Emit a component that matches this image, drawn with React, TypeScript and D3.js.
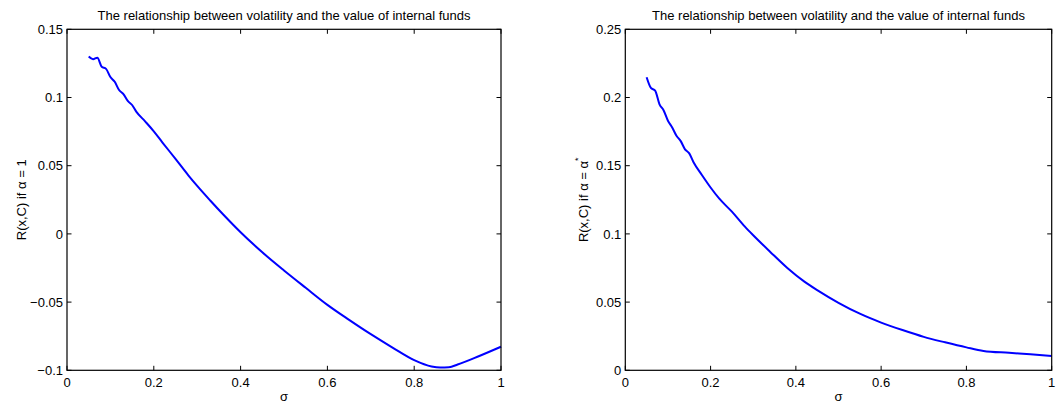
import React from "react";
import * as d3 from "d3";

const titleText = "The relationship between volatility and the value of internal funds";
const xTicks = [0, 0.2, 0.4, 0.6, 0.8, 1];
const xTickLabels = ["0", "0.2", "0.4", "0.6", "0.8", "1"];

const leftYTicks = [-0.1, -0.05, 0, 0.05, 0.1, 0.15];
const leftYTickLabels = ["\u22120.1", "\u22120.05", "0", "0.05", "0.1", "0.15"];
const rightYTicks = [0, 0.05, 0.1, 0.15, 0.2, 0.25];
const rightYTickLabels = ["0", "0.05", "0.1", "0.15", "0.2", "0.25"];

const leftSigma = [0.05, 0.06, 0.07, 0.08, 0.09, 0.10, 0.11, 0.12, 0.13, 0.14, 0.15, 0.16, 0.18, 0.20, 0.22, 0.25, 0.28, 0.30, 0.33, 0.36, 0.40, 0.45, 0.50, 0.55, 0.60, 0.65, 0.70, 0.75, 0.80, 0.84, 0.86, 0.88, 0.90, 0.95, 1.00];
const leftValues = [0.130, 0.128, 0.1292, 0.1225, 0.1210, 0.1150, 0.1115, 0.1055, 0.1025, 0.0975, 0.0945, 0.0895, 0.0825, 0.0752, 0.0670, 0.0550, 0.0428, 0.0352, 0.0245, 0.0142, 0.0012, -0.0135, -0.0268, -0.0395, -0.0520, -0.0630, -0.0735, -0.0833, -0.0925, -0.0972, -0.0980, -0.0978, -0.0958, -0.0895, -0.0827];

const rightSigma = [0.05, 0.06, 0.07, 0.08, 0.09, 0.10, 0.11, 0.12, 0.13, 0.14, 0.15, 0.16, 0.18, 0.20, 0.22, 0.25, 0.28, 0.30, 0.34, 0.38, 0.42, 0.45, 0.50, 0.55, 0.60, 0.65, 0.70, 0.75, 0.80, 0.84, 0.90, 0.95, 1.00];
const rightValues = [0.2148, 0.2070, 0.2050, 0.1952, 0.1905, 0.1830, 0.1780, 0.1720, 0.1680, 0.1620, 0.1590, 0.1525, 0.1430, 0.1340, 0.1260, 0.1163, 0.1055, 0.0990, 0.0868, 0.0750, 0.0650, 0.0588, 0.0495, 0.0415, 0.0350, 0.0295, 0.0245, 0.0205, 0.0168, 0.0142, 0.0128, 0.0117, 0.0105];

const FONT = "'Liberation Sans', Arial, Helvetica, sans-serif";

type PanelProps = {
  x0: number; x1: number; y0: number; y1: number;
  yDomain: [number, number];
  yTicks: number[]; yTickLabels: string[];
  sigma: number[]; values: number[];
  ylabel: React.ReactNode; ylabelX: number;
};

function Panel(p: PanelProps) {
  const xs = d3.scaleLinear().domain([0, 1]).range([p.x0, p.x1]);
  const ys = d3.scaleLinear().domain(p.yDomain).range([p.y1, p.y0]);
  const pts: [number, number][] = p.sigma.map((s, i) => [s, p.values[i]]);
  const line = d3.line<[number, number]>().x(d => xs(d[0])).y(d => ys(d[1])).curve(d3.curveMonotoneX);
  const tl = 4.5;
  const cx = (p.x0 + p.x1) / 2;
  const cy = (p.y0 + p.y1) / 2;
  return (
    <g fontFamily={FONT} fontSize={13} fill="#000">
      <text x={cx} y={20} textAnchor="middle">{titleText}</text>
      <path d={line(pts) || ""} fill="none" stroke="#0000ff" strokeWidth={2} strokeLinejoin="round" />
      <rect x={p.x0} y={p.y0} width={p.x1 - p.x0} height={p.y1 - p.y0} fill="none" stroke="#000" strokeWidth={1.2} />
      {xTicks.map((t, i) => (
        <g key={"x" + i}>
          <line x1={xs(t)} x2={xs(t)} y1={p.y1} y2={p.y1 - tl} stroke="#000" strokeWidth={1} />
          <line x1={xs(t)} x2={xs(t)} y1={p.y0} y2={p.y0 + tl} stroke="#000" strokeWidth={1} />
          <text x={xs(t)} y={p.y1 + 16.5} textAnchor="middle">{xTickLabels[i]}</text>
        </g>
      ))}
      {p.yTicks.map((t, i) => (
        <g key={"y" + i}>
          <line x1={p.x0} x2={p.x0 + tl} y1={ys(t)} y2={ys(t)} stroke="#000" strokeWidth={1} />
          <line x1={p.x1} x2={p.x1 - tl} y1={ys(t)} y2={ys(t)} stroke="#000" strokeWidth={1} />
          <text x={p.x0 - 4} y={ys(t) + 4.7} textAnchor="end">{p.yTickLabels[i]}</text>
        </g>
      ))}
      <text x={cx} y={p.y1 + 31} textAnchor="middle">{"\u03c3"}</text>
      <text transform={`translate(${p.ylabelX},${cy}) rotate(-90)`} textAnchor="middle">{p.ylabel}</text>
    </g>
  );
}

export default function App() {
  return (
    <svg width={1061} height={406} style={{ position: "absolute", left: 0, top: 0, background: "#fff" }}>
      <rect width={1061} height={406} fill="#fff" />
      <Panel x0={67} x1={501} y0={29.3} y1={370.3} yDomain={[-0.1, 0.15]}
        yTicks={leftYTicks} yTickLabels={leftYTickLabels}
        sigma={leftSigma} values={leftValues}
        ylabel={"R(x,C) if \u03b1 = 1"} ylabelX={26} />
      <Panel x0={625.3} x1={1051.7} y0={29.3} y1={370.3} yDomain={[0, 0.25]}
        yTicks={rightYTicks} yTickLabels={rightYTickLabels}
        sigma={rightSigma} values={rightValues}
        ylabel={<>{"R(x,C) if \u03b1 = \u03b1"}<tspan dy={-7} fontSize={9}>*</tspan></>} ylabelX={588} />
    </svg>
  );
}
